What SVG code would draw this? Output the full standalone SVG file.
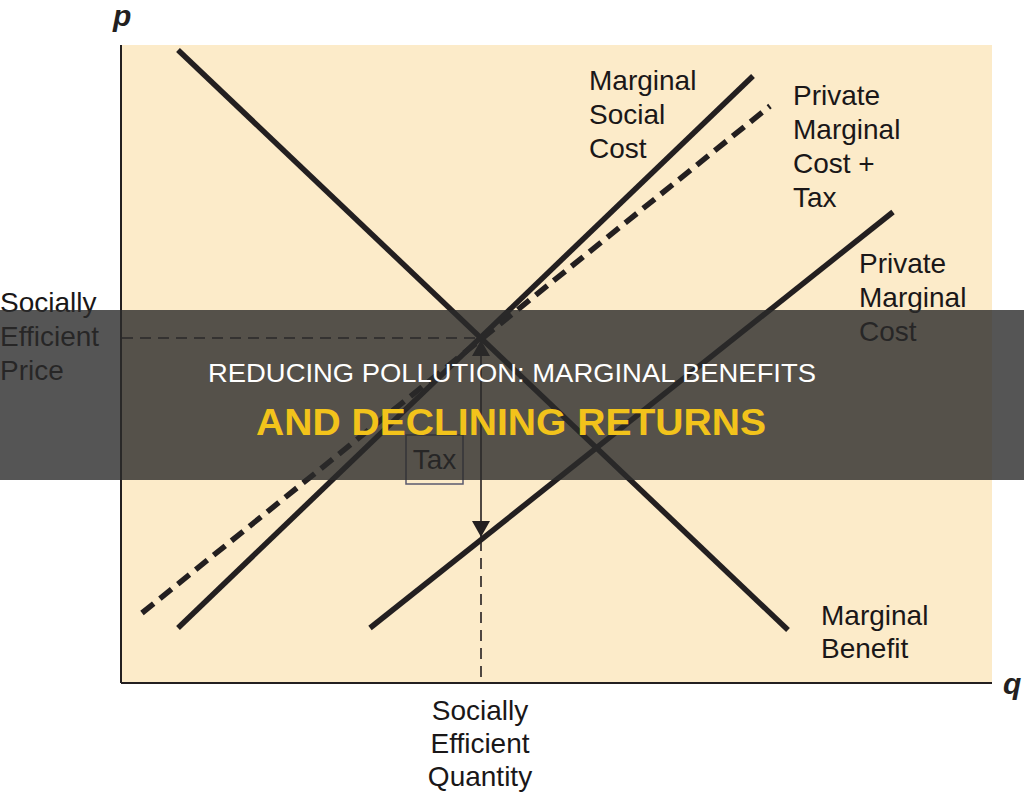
<svg xmlns="http://www.w3.org/2000/svg" width="1024" height="796" viewBox="0 0 1024 796">
<defs>
<style>
.lbl{font-family:"Liberation Sans",Arial,sans-serif;font-size:28px;fill:#1a1718}
.ax{font-family:"Liberation Sans",Arial,sans-serif;font-size:30px;font-weight:bold;font-style:italic;fill:#231f20}
.curve{stroke:#231f20;stroke-width:5.5;fill:none;stroke-linecap:butt}
.guide{stroke:#231f20;stroke-width:1.6;fill:none;stroke-dasharray:11 7}
</style>
<marker id="ah" viewBox="0 0 16 18" refX="16" refY="9" markerWidth="16" markerHeight="18" markerUnits="userSpaceOnUse" orient="auto"><path d="M0,0 L16,9 L0,18 z" fill="#231f20"/></marker>
</defs>
<rect width="1024" height="796" fill="#ffffff"/>
<rect x="121" y="45" width="871" height="638" fill="#fcebc9"/>
<g id="connectors">
<line x1="121" y1="45" x2="121" y2="683" stroke="#231f20" stroke-width="2"/>
<line x1="121" y1="683" x2="992" y2="683" stroke="#231f20" stroke-width="2"/>
<line class="guide" x1="122" y1="338" x2="481" y2="338"/>
<line class="guide" x1="481" y1="540" x2="481" y2="682"/>
<line x1="481" y1="438" x2="481" y2="340" stroke="#231f20" stroke-width="1.6" marker-end="url(#ah)"/>
<line x1="481" y1="438" x2="481" y2="537" stroke="#231f20" stroke-width="1.6" marker-end="url(#ah)"/>
</g>
<g id="marginal-benefit"><line class="curve" x1="178" y1="50" x2="788" y2="630"/></g>
<g id="marginal-social-cost"><line class="curve" x1="178" y1="628" x2="753" y2="76"/></g>
<g id="pmc-tax"><line class="curve" x1="142" y1="613" x2="770" y2="106" stroke-width="6" stroke-dasharray="15 8"/></g>
<g id="private-marginal-cost"><line class="curve" x1="370" y1="628" x2="893" y2="212"/></g>
<g id="tax-box"><rect x="406" y="435" width="57" height="49" fill="none" stroke="#5a5a6e" stroke-width="1.5"/><text class="lbl" x="434.5" y="469" text-anchor="middle">Tax</text></g>
<g id="labels">
<text class="ax" x="113" y="26">p</text>
<text class="ax" x="1003" y="694">q</text>
<text class="lbl" x="589" y="90">Marginal</text><text class="lbl" x="589" y="124">Social</text><text class="lbl" x="589" y="158">Cost</text>
<text class="lbl" x="793" y="105">Private</text><text class="lbl" x="793" y="139">Marginal</text><text class="lbl" x="793" y="173">Cost +</text><text class="lbl" x="793" y="207">Tax</text>
<text class="lbl" x="859" y="273">Private</text><text class="lbl" x="859" y="307">Marginal</text><text class="lbl" x="859" y="341">Cost</text>
<text class="lbl" x="821" y="625">Marginal</text><text class="lbl" x="821" y="658">Benefit</text>
<text class="lbl" x="0" y="312">Socially</text><text class="lbl" x="0" y="346">Efficient</text><text class="lbl" x="0" y="380">Price</text>
<text class="lbl" x="480" y="720" text-anchor="middle">Socially</text><text class="lbl" x="480" y="753" text-anchor="middle">Efficient</text><text class="lbl" x="480" y="786" text-anchor="middle">Quantity</text>
</g>
<g id="title-banner">
<rect x="0" y="310" width="1024" height="170" fill="#2a2a2a" fill-opacity="0.8"/>
<text x="512" y="382" text-anchor="middle" font-family="Liberation Sans,Arial,sans-serif" font-size="25" fill="#ffffff" textLength="608" lengthAdjust="spacingAndGlyphs">REDUCING POLLUTION: MARGINAL BENEFITS</text>
<text x="511" y="435" text-anchor="middle" font-family="Liberation Sans,Arial,sans-serif" font-size="37" font-weight="bold" fill="#f2c31b" textLength="510" lengthAdjust="spacingAndGlyphs">AND DECLINING RETURNS</text>
</g>
</svg>
